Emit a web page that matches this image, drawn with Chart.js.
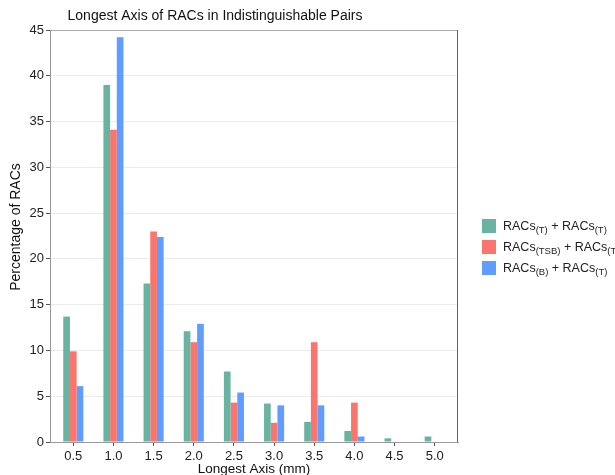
<!DOCTYPE html>
<html>
<head>
<meta charset="utf-8">
<script src="https://cdn.jsdelivr.net/npm/chart.js@4.4.1/dist/chart.umd.min.js"></script>
<style>
  html, body { margin: 0; padding: 0; background: #fff; }
  #wrap { position: relative; width: 615px; height: 475px; overflow: hidden; }
  #legend { position: absolute; left: 482px; top: 216px; font-family: "Liberation Sans", Arial, sans-serif; font-size: 12.5px; color: #222; }
  .item { height: 20.7px; display: flex; align-items: center; white-space: nowrap; }
  .sw { width: 14px; height: 14px; margin-right: 7px; flex: none; }
  sub { font-size: 9.5px; vertical-align: -3px; line-height: 0; }
</style>
</head>
<body>
<div id="wrap">
  <canvas id="c" width="615" height="475"></canvas>
  <div id="legend"></div>
</div>
<script>
const categories = [0.5, 1.0, 1.5, 2.0, 2.5, 3.0, 3.5, 4.0, 4.5, 5.0];
const seriesT   = [13.7, 39.0, 17.3, 12.1, 7.7, 4.2, 2.2, 1.2, 0.4, 0.6];
const seriesTSB = [9.9, 34.1, 23.0, 10.9, 4.3, 2.1, 10.9, 4.3, 0, 0];
const seriesB   = [6.1, 44.2, 22.4, 12.9, 5.4, 4.0, 4.0, 0.6, 0, 0];
const yTicks = [0, 5, 10, 15, 20, 25, 30, 35, 40, 45];
const seriesLabels = [
  'RACs<sub>(T)</sub> + RACs<sub>(T)</sub>',
  'RACs<sub>(TSB)</sub> + RACs<sub>(T)</sub>',
  'RACs<sub>(B)</sub> + RACs<sub>(T)</sub>'
];
const seriesNames = ['RACs(T) + RACs(T)', 'RACs(TSB) + RACs(T)', 'RACs(B) + RACs(T)'];
const colors = ['#69b3a2', '#f8766d', '#619cff'];

const FONT = '"Liberation Sans", Arial, sans-serif';
const allSeries = [seriesT, seriesTSB, seriesB];

const datasets = allSeries.map((s, i) => ({
  label: seriesNames[i],
  data: categories.map((c, j) => ({ x: c, y: s[j] })),
  backgroundColor: colors[i],
  borderWidth: 0,
  categoryPercentage: 0.5,
  barPercentage: 1.0
}));

const framePlugin = {
  id: 'frame',
  afterDraw(chart) {
    const { ctx, chartArea: a } = chart;
    ctx.save();
    ctx.lineWidth = 1;
    ctx.strokeStyle = '#aaaaaa';
    ctx.beginPath();
    ctx.moveTo(a.left, a.top + 0.5);
    ctx.lineTo(a.right, a.top + 0.5);
    ctx.stroke();
    ctx.strokeStyle = '#666666';
    ctx.beginPath();
    ctx.moveTo(a.right - 0.5, a.top);
    ctx.lineTo(a.right - 0.5, a.bottom);
    ctx.stroke();
    // titles
    ctx.fillStyle = '#111';
    ctx.font = '14px ' + FONT;
    ctx.textAlign = 'center';
    ctx.textBaseline = 'alphabetic';
    ctx.fillText('Longest Axis of RACs in Indistinguishable Pairs', 215, 20);
    ctx.font = '13.5px ' + FONT;
    ctx.fillText('Longest Axis (mm)', (a.left + a.right) / 2, 473);
    ctx.font = '14px ' + FONT;
    ctx.translate(20, 227);
    ctx.rotate(-Math.PI / 2);
    ctx.fillText('Percentage of RACs', 0, 0);
    ctx.restore();
  }
};

new Chart(document.getElementById('c'), {
  type: 'bar',
  data: { datasets },
  options: {
    responsive: false,
    animation: false,
    devicePixelRatio: 1,
    layout: { padding: { top: 30, right: 157, left: 0, bottom: 0 } },
    plugins: { legend: { display: false }, title: { display: false }, tooltip: { enabled: false } },
    scales: {
      x: {
        type: 'linear',
        offset: false,
        min: 0.21,
        max: 5.29,
        afterBuildTicks: (s) => { s.ticks = categories.map(v => ({ value: v })); },
        afterFit: (s) => { s.height = 33; },
        ticks: { color: '#222', font: { family: FONT, size: 13 }, padding: 3, maxRotation: 0, autoSkip: false,
                 callback: (v) => Number(v).toFixed(1) },
        grid: { offset: false, drawOnChartArea: false, drawTicks: true, tickLength: 4, tickColor: '#555' },
        border: { color: '#999', width: 1 }
      },
      y: {
        min: 0,
        max: 45,
        afterBuildTicks: (s) => { s.ticks = yTicks.map(v => ({ value: v })); },
        afterFit: (s) => { s.width = 50; },
        ticks: { color: '#222', font: { family: FONT, size: 13 }, padding: 2 },
        grid: { color: '#ebebeb', drawTicks: true, tickLength: 4, tickColor: '#555' },
        border: { color: '#999', width: 1 }
      }
    }
  },
  plugins: [framePlugin]
});

const leg = document.getElementById('legend');
seriesLabels.forEach((l, i) => {
  const d = document.createElement('div');
  d.className = 'item';
  d.innerHTML = '<span class="sw" style="background:' + colors[i] + '"></span><span>' + l + '</span>';
  leg.appendChild(d);
});
</script>
</body>
</html>
